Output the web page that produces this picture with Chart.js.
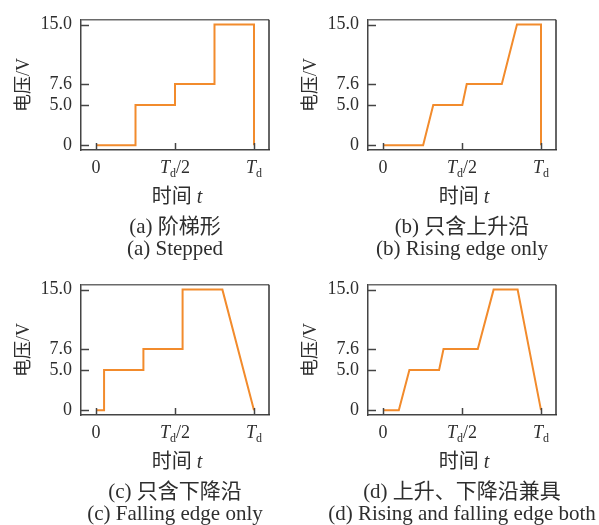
<!DOCTYPE html>
<html><head><meta charset="utf-8">
<script src="https://cdn.jsdelivr.net/npm/chart.js@4.4.1/dist/chart.umd.min.js"></script>
<style>
html,body{margin:0;padding:0;background:#fff;}
body{width:599px;height:525px;position:relative;overflow:hidden;font-family:'Liberation Serif','Noto Sans CJK SC',serif;color:#2e2e2e;}
canvas{position:absolute;}
.lbl{position:absolute;white-space:nowrap;font-size:18px;line-height:22px;transform:translate(-50%,-50%);}
.lbl.tt{font-size:20px;}
.lbl.cap{font-size:21px;}
.lbl i{font-style:italic;}
.lbl sub{font-size:12px;vertical-align:-4px;line-height:0;}
</style></head><body>
<script>
// ---- data ----
const xTickValues = [0, 0.5, 1];
const xTickLabels = ['0', '<i>T</i><sub>d</sub>/2', '<i>T</i><sub>d</sub>'];
const yTickValues = [0, 5, 7.6, 15];
const yTickLabels = ['0', '5.0', '7.6', '15.0'];
const yTitle = '电压/V';
const xTitle = '时间 <i>t</i>';

const steppedT = [0, 0.25, 0.25, 0.5, 0.5, 0.75, 0.75, 1, 1];
const steppedV = [0, 0, 5, 5, 7.6, 7.6, 15, 15, 0];
const risingT  = [0, 0.254, 0.318, 0.502, 0.53, 0.752, 0.848, 1, 1];
const risingV  = [0, 0, 5, 5, 7.6, 7.6, 15, 15, 0];
const fallingT = [0, 0.051, 0.051, 0.30, 0.30, 0.548, 0.548, 0.80, 1];
const fallingV = [0, 0, 5, 5, 7.6, 7.6, 15, 15, 0];
const bothT    = [0, 0.10, 0.167, 0.355, 0.383, 0.60, 0.70, 0.852, 1];
const bothV    = [0, 0, 5, 5, 7.6, 7.6, 15, 15, 0];

const captionsZh = ['(a) 阶梯形', '(b) 只含上升沿', '(c) 只含下降沿', '(d) 上升、下降沿兼具'];
const captionsEn = ['(a) Stepped', '(b) Rising edge only', '(c) Falling edge only', '(d) Rising and falling edge both'];

// ---- styles ----
const ORANGE = '#F28B2C';
const TEXT = '#2e2e2e';
const FONT = "'Liberation Serif','Noto Sans CJK SC',serif";

const framePlugin = {
  id: 'frame',
  afterDraw(chart) {
    const {ctx, chartArea: {left, right, top, bottom}, scales: {x, y}} = chart;
    ctx.save();
    ctx.lineWidth = 1.5;
    ctx.strokeStyle = '#6a6a6a';
    ctx.beginPath(); ctx.moveTo(left, top); ctx.lineTo(right, top); ctx.stroke();
    ctx.strokeStyle = '#333';
    ctx.beginPath(); ctx.moveTo(right, top); ctx.lineTo(right, bottom); ctx.stroke();
    ctx.strokeStyle = '#444';
    yTickValues.forEach(v => {
      const py = Math.round(y.getPixelForValue(v)) + 0.5;
      ctx.beginPath(); ctx.moveTo(left, py); ctx.lineTo(left + 8, py); ctx.stroke();
    });
    xTickValues.forEach(v => {
      const px = Math.round(x.getPixelForValue(v)) + 0.5;
      ctx.beginPath(); ctx.moveTo(px, bottom); ctx.lineTo(px, bottom - 7); ctx.stroke();
    });
    ctx.restore();
  }
};

function addLabel(html, cx, cy, cls) {
  const d = document.createElement('div');
  d.className = 'lbl' + (cls ? ' ' + cls : '');
  d.innerHTML = html;
  d.style.left = cx + 'px';
  d.style.top = cy + 'px';
  document.body.appendChild(d);
}

function makePanel(idx, left, top, width, xs, ys) {
  const H = 262;
  const cv = document.createElement('canvas');
  cv.width = width; cv.height = H;
  cv.style.left = left + 'px'; cv.style.top = top + 'px';
  cv.style.width = width + 'px'; cv.style.height = H + 'px';
  document.body.appendChild(cv);
  const pts = xs.map((t, i) => ({x: t, y: ys[i]}));
  const chart = new Chart(cv.getContext('2d'), {
    type: 'line',
    data: {datasets: [{data: pts, borderColor: ORANGE, borderWidth: 2, pointRadius: 0, tension: 0, fill: false}]},
    options: {
      responsive: false, animation: false, devicePixelRatio: 1,
      layout: {padding: {left: 0, top: 16, right: width - 269, bottom: 0}},
      plugins: {legend: {display: false}, tooltip: {enabled: false}},
      scales: {
        x: {
          type: 'linear', min: -0.095, max: 1.095,
          afterBuildTicks(s) { s.ticks = xTickValues.map(v => ({value: v})); },
          afterFit(s) { s.height = H - 150; },
          ticks: {display: false},
          grid: {display: false, drawTicks: false},
          border: {display: true, color: '#444', width: 1.5}
        },
        y: {
          type: 'linear', min: -0.6, max: 15.6,
          afterBuildTicks(s) { s.ticks = yTickValues.map(v => ({value: v})); },
          afterFit(s) { s.width = 81; },
          ticks: {
            callback: (v, i) => yTickLabels[i],
            font: {family: FONT, size: 18}, color: TEXT, padding: 9
          },
          grid: {display: false, drawTicks: false},
          border: {display: true, color: '#444', width: 1.5},
          title: {display: true, text: yTitle, font: {family: FONT, size: 18}, color: TEXT, padding: {top: 13, bottom: 0}}
        }
      }
    },
    plugins: [framePlugin]
  });
  const sx = chart.scales.x;
  xTickValues.forEach((v, i) => addLabel(xTickLabels[i], left + sx.getPixelForValue(v), top + 167));
  const cx = left + sx.getPixelForValue(0.5);
  addLabel(xTitle, cx + 2, top + 196, 'tt');
  addLabel(captionsZh[idx], cx, top + 226, 'cap');
  addLabel(captionsEn[idx], cx, top + 248, 'cap');
}

makePanel(0, 0, 0, 300, steppedT, steppedV);
makePanel(1, 287, 0, 312, risingT, risingV);
makePanel(2, 0, 265, 300, fallingT, fallingV);
makePanel(3, 287, 265, 312, bothT, bothV);
</script>
</body></html>
